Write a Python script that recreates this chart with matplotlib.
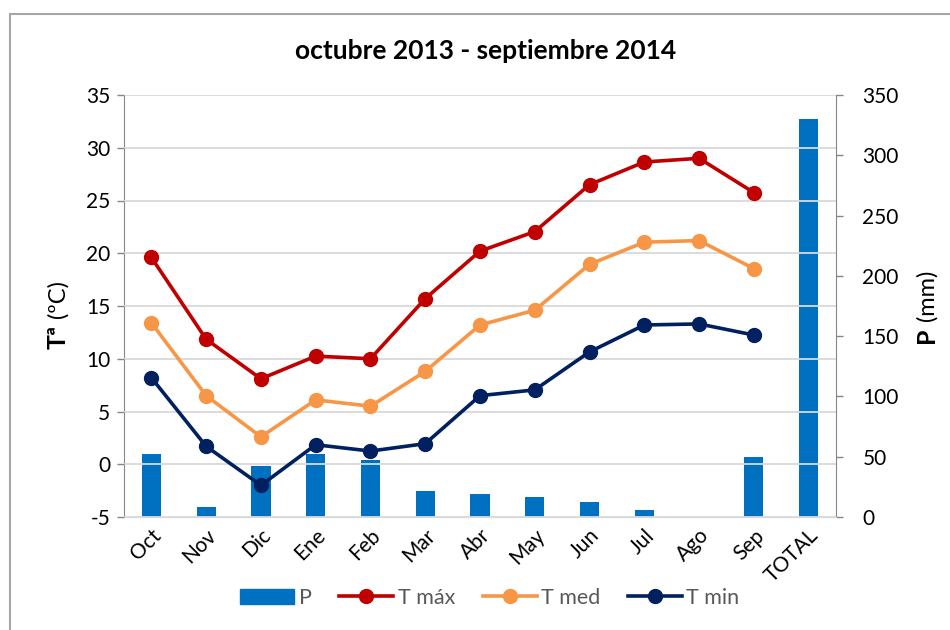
import matplotlib
matplotlib.use("Agg")
import matplotlib.pyplot as plt
from matplotlib.patches import Rectangle
from matplotlib.lines import Line2D
from matplotlib.patches import Patch

categories = ["Oct", "Nov", "Dic", "Ene", "Feb", "Mar", "Abr", "May", "Jun", "Jul", "Ago", "Sep", "TOTAL"]
precip = [52, 8.3, 42.5, 52, 47, 21.7, 19, 17, 12.5, 5.6, 0, 50, 330]
t_max = [19.6, 11.85, 8.1, 10.25, 10.0, 15.7, 20.2, 22.05, 26.5, 28.65, 29.0, 25.75]
t_med = [13.4, 6.5, 2.6, 6.1, 5.5, 8.8, 13.2, 14.6, 18.95, 21.05, 21.2, 18.55]
t_min = [8.2, 1.7, -2.0, 1.85, 1.25, 1.95, 6.5, 7.05, 10.65, 13.2, 13.3, 12.25]
left_ticks = [-5, 0, 5, 10, 15, 20, 25, 30, 35]
right_ticks = [0, 50, 100, 150, 200, 250, 300, 350]

plt.rcParams['font.family'] = ['Lato', 'DejaVu Sans']
plt.rcParams['axes.unicode_minus'] = False

W, H = 950, 630
fig = plt.figure(figsize=(9.5, 6.3), dpi=100)
fig.patch.set_facecolor('white')

L, R, T, B = 124, 836, 95, 517
ax = fig.add_axes([L / W, 1 - B / H, (R - L) / W, (B - T) / H])
ax2 = ax.twinx()
ax.set_zorder(ax2.get_zorder() + 1)
ax.patch.set_visible(False)

x = list(range(len(categories)))
ax2.bar(x, precip, width=0.35, color='#0070C0', zorder=1)
ax2.set_ylim(0, 350)
ax2.set_yticks(right_ticks)

xm = x[:len(t_max)]
ax.plot(xm, t_max, color='#C00000', lw=2.6, marker='o', ms=10, zorder=4)
ax.plot(xm, t_med, color='#F79646', lw=2.6, marker='o', ms=10, zorder=4)
ax.plot(xm, t_min, color='#002060', lw=2.6, marker='o', ms=10, zorder=4)
ax.set_ylim(-5, 35)
ax.set_yticks(left_ticks)
ax.set_xlim(-0.5, len(categories) - 0.5)
ax.set_xticks(x)
ax.set_xticklabels(categories, rotation=45, ha='right', rotation_mode='anchor')
ax.grid(axis='y', color='#D9D9D9', lw=1.3, zorder=2)
ax.set_axisbelow(False)
for gl in ax.get_ygridlines():
    gl.set_zorder(2)

for a in (ax, ax2):
    a.spines['top'].set_visible(False)
    a.spines['left'].set_color('#868686')
    a.spines['right'].set_color('#868686')
    a.spines['bottom'].set_color('#D9D9D9')
    a.tick_params(axis='y', length=5, width=1, color='#868686', labelsize=15, labelcolor='black', pad=5)
ax.spines['right'].set_visible(False)
ax2.spines['left'].set_visible(False)
ax.tick_params(axis='x', length=0, labelsize=15, labelcolor='black', pad=6)
ax2.tick_params(axis='y', pad=14)

# y labels (bold part + regular part)
fig.text(58 / W, 1 - 349 / H, "Tª", rotation=90, fontsize=18, fontweight='bold', ha='center', va='bottom')
fig.text(58 / W, 1 - 318 / H, "(ºC)", rotation=90, fontsize=17, ha='center', va='bottom')
fig.text(927 / W, 1 - 343 / H, "P", rotation=90, fontsize=18, fontweight='bold', ha='center', va='bottom')
fig.text(927 / W, 1 - 321 / H, "(mm)", rotation=90, fontsize=17, ha='center', va='bottom')

fig.text(486 / W, 1 - 51 / H, "octubre 2013 - septiembre 2014", fontsize=19, fontweight='bold', ha='center', va='center')

handles = [
    Patch(color='#0070C0'),
    Line2D([], [], color='#C00000', lw=2.6, marker='o', ms=10),
    Line2D([], [], color='#F79646', lw=2.6, marker='o', ms=10),
    Line2D([], [], color='#002060', lw=2.6, marker='o', ms=10),
]
leg = fig.legend(handles, ["P", "T máx", "T med", "T min"], loc='center', ncol=4,
                 bbox_to_anchor=(490 / W, 1 - 598 / H), frameon=False, fontsize=15.5,
                 handlelength=2.5, handletextpad=0.2, columnspacing=1.3)
for t in leg.get_texts():
    t.set_color('#595959')

fig.patches.append(Rectangle((10 / W, -0.1), 1.2, 1 - 14 / H + 0.1, transform=fig.transFigure,
                             fill=False, edgecolor='#A6A6A6', lw=1.5, zorder=0))

fig.savefig("out.png", dpi=100)
